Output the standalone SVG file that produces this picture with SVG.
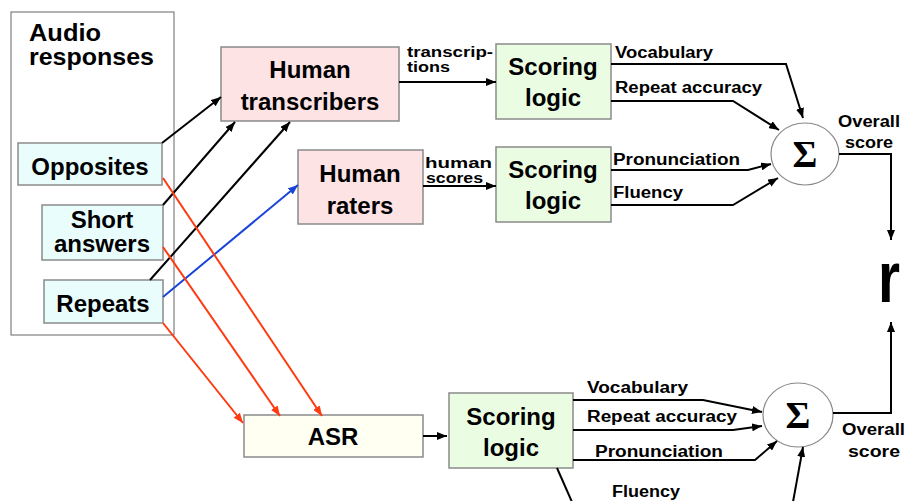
<svg xmlns="http://www.w3.org/2000/svg" width="906" height="501" viewBox="0 0 906 501">
<style>
.box{stroke:#8a8a8a;stroke-width:1.5}
.in{fill:#eafdfd}
.hum{fill:#fde3e3}
.sc{fill:#eafde2}
.asr{fill:#fffff2}
.big{font-family:"Liberation Sans",Arial,sans-serif;font-weight:bold;font-size:24px;fill:#000;text-anchor:middle}
.sm{font-family:"Liberation Sans",Arial,sans-serif;font-weight:bold;font-size:16px;fill:#000}
.tw{font-family:"Liberation Sans",Arial,sans-serif;font-weight:bold;font-size:14px;fill:#000}
.sig{font-family:"Liberation Serif","Times New Roman",serif;font-weight:bold;font-size:38px;fill:#000;text-anchor:middle}
.k{fill:none;stroke:#000;stroke-width:2}
.rd{fill:none;stroke:#ff3a10;stroke-width:2}
.bl{fill:none;stroke:#1a44d8;stroke-width:2}
</style>
<defs>
<marker id="ak" markerUnits="userSpaceOnUse" markerWidth="10" markerHeight="8" refX="10" refY="4" orient="auto"><path d="M0,0L10,4L0,8z" fill="#000"/></marker>
<marker id="ar" markerUnits="userSpaceOnUse" markerWidth="10" markerHeight="8" refX="10" refY="4" orient="auto"><path d="M0,0L10,4L0,8z" fill="#ff3a10"/></marker>
<marker id="ab" markerUnits="userSpaceOnUse" markerWidth="10" markerHeight="8" refX="10" refY="4" orient="auto"><path d="M0,0L10,4L0,8z" fill="#1a44d8"/></marker>
</defs>
<g id="audio-responses">
<rect x="11" y="12" width="163" height="323" fill="#fff" stroke="#666" stroke-width="1"/>
<text class="big" x="29" y="41" style="text-anchor:start" textLength="72" lengthAdjust="spacingAndGlyphs">Audio</text>
<text class="big" x="29" y="65" style="text-anchor:start" textLength="125" lengthAdjust="spacingAndGlyphs">responses</text>
</g>
<g id="opposites"><rect class="box in" x="18" y="143" width="144" height="42"/><text class="big" x="90" y="175">Opposites</text></g>
<g id="short-answers"><rect class="box in" x="42" y="205" width="121" height="55"/><text class="big" x="102" y="228">Short</text><text class="big" x="102" y="252">answers</text></g>
<g id="repeats"><rect class="box in" x="44" y="280" width="119" height="43"/><text class="big" x="103" y="312">Repeats</text></g>
<g id="human-transcribers"><rect class="box hum" x="221" y="47" width="178" height="74"/><text class="big" x="310" y="78">Human</text><text class="big" x="310" y="110">transcribers</text></g>
<g id="human-raters"><rect class="box hum" x="298" y="150" width="125" height="74"/><text class="big" x="360" y="182">Human</text><text class="big" x="360" y="214">raters</text></g>
<g id="scoring-logic-1"><rect class="box sc" x="496" y="44" width="115" height="75"/><text class="big" x="553" y="75">Scoring</text><text class="big" x="553" y="106">logic</text></g>
<g id="scoring-logic-2"><rect class="box sc" x="496" y="147" width="115" height="75"/><text class="big" x="553" y="178">Scoring</text><text class="big" x="553" y="209">logic</text></g>
<g id="asr"><rect class="box asr" x="244" y="415" width="179" height="42"/><text class="big" x="333" y="445">ASR</text></g>
<g id="scoring-logic-3"><rect class="box sc" x="449" y="393" width="124" height="75"/><text class="big" x="511" y="425">Scoring</text><text class="big" x="511" y="456">logic</text></g>
<g id="sum-1"><ellipse cx="805" cy="154" rx="34" ry="31" fill="#fff" stroke="#888" stroke-width="1.2"/><text class="sig" x="805" y="167">Σ</text></g>
<g id="sum-2"><ellipse cx="798" cy="415" rx="35" ry="32" fill="#fff" stroke="#888" stroke-width="1.2"/><text class="sig" x="798" y="428">Σ</text></g>
<g id="r"><text x="878" y="302" font-family="Liberation Sans,Arial,sans-serif" font-weight="bold" font-size="72" textLength="22" lengthAdjust="spacingAndGlyphs">r</text></g>
<g id="connectors">
<path class="k" d="M162,143L221,97" marker-end="url(#ak)"/>
<path class="k" d="M163,205L235,122" marker-end="url(#ak)"/>
<path class="k" d="M150,280L290,122" marker-end="url(#ak)"/>
<path class="bl" d="M163,297L298,185" marker-end="url(#ab)"/>
<path class="rd" d="M163,178L322,416" marker-end="url(#ar)"/>
<path class="rd" d="M163,247L280,416" marker-end="url(#ar)"/>
<path class="rd" d="M163,323L243,423" marker-end="url(#ar)"/>
<path class="k" d="M399,82L496,82" marker-end="url(#ak)"/>
<path class="k" d="M423,186L496,186" marker-end="url(#ak)"/>
<path class="k" d="M423,436L447,436" marker-end="url(#ak)"/>
<path class="k" d="M611,64L786,64L803,118" marker-end="url(#ak)"/>
<path class="k" d="M611,101L733,101L779,130" marker-end="url(#ak)"/>
<path class="k" d="M611,170L748,170L771,164" marker-end="url(#ak)"/>
<path class="k" d="M611,205L733,205L778,178" marker-end="url(#ak)"/>
<path class="k" d="M839,154L891,154L891,240" marker-end="url(#ak)"/>
<path class="k" d="M573,400L703,400L762,412" marker-end="url(#ak)"/>
<path class="k" d="M573,430L733,430L762,426" marker-end="url(#ak)"/>
<path class="k" d="M573,460L755,460L777,441" marker-end="url(#ak)"/>
<path class="k" d="M557,468L572,502"/>
<path class="k" d="M793,502L803,447" marker-end="url(#ak)"/>
<path class="k" d="M833,413L891,413L891,322" marker-end="url(#ak)"/>
<text class="tw" x="407" y="57" textLength="86" lengthAdjust="spacingAndGlyphs">transcrip-</text>
<text class="tw" x="407" y="72" textLength="43" lengthAdjust="spacingAndGlyphs">tions</text>
<text class="tw" x="425" y="168" textLength="67" lengthAdjust="spacingAndGlyphs">human</text>
<text class="tw" x="426" y="183" textLength="57" lengthAdjust="spacingAndGlyphs">scores</text>
<text class="sm" x="615" y="58" textLength="98" lengthAdjust="spacingAndGlyphs">Vocabulary</text>
<text class="sm" x="615" y="93" textLength="147" lengthAdjust="spacingAndGlyphs">Repeat accuracy</text>
<text class="sm" x="613" y="165" textLength="127" lengthAdjust="spacingAndGlyphs">Pronunciation</text>
<text class="sm" x="613" y="198" textLength="70" lengthAdjust="spacingAndGlyphs">Fluency</text>
<text class="sm" x="587" y="393" textLength="101" lengthAdjust="spacingAndGlyphs">Vocabulary</text>
<text class="sm" x="587" y="422" textLength="150" lengthAdjust="spacingAndGlyphs">Repeat accuracy</text>
<text class="sm" x="595" y="457" textLength="128" lengthAdjust="spacingAndGlyphs">Pronunciation</text>
<text class="sm" x="612" y="497" textLength="68" lengthAdjust="spacingAndGlyphs">Fluency</text>
<text class="sm" x="838" y="127" textLength="62" lengthAdjust="spacingAndGlyphs">Overall</text>
<text class="sm" x="845" y="148" textLength="48" lengthAdjust="spacingAndGlyphs">score</text>
<text class="sm" x="842" y="435" textLength="63" lengthAdjust="spacingAndGlyphs">Overall</text>
<text class="sm" x="848" y="457" textLength="52" lengthAdjust="spacingAndGlyphs">score</text>
</g>
</svg>
